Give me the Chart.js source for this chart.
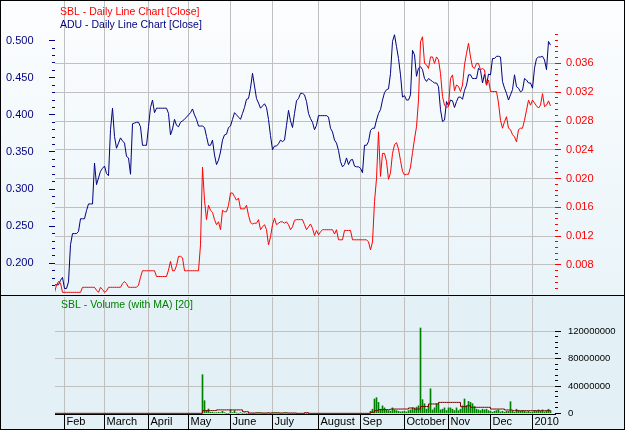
<!DOCTYPE html>
<html>
<head>
<meta charset="utf-8">
<script src="https://cdn.jsdelivr.net/npm/chart.js@4.4.1/dist/chart.umd.min.js"></script>
<style>
  html, body { margin: 0; padding: 0; background: #fff; }
  #wrap { position: relative; width: 625px; height: 430px; overflow: hidden; }
  #topBg { position: absolute; left: 0; top: 0; width: 625px; height: 295px;
           background: linear-gradient(to bottom, #fcfdfe 0%, #e9f4f9 100%); }
  #botBg { position: absolute; left: 0; top: 295px; width: 625px; height: 135px;
           box-sizing: border-box; border-top: 1px solid #000; background: #e3f1f6; }
  #priceChart { position: absolute; left: 0; top: 0; }
  #volChart { position: absolute; left: 0; top: 296px; }
  #frame { position: absolute; left: 0; top: 0; width: 625px; height: 430px;
           box-sizing: border-box; border: 1px solid #000; pointer-events: none; }
</style>
</head>
<body>
<div id="wrap">
  <div id="topBg"></div>
  <div id="botBg"></div>
  <canvas id="priceChart" width="625" height="295"></canvas>
  <canvas id="volChart" width="625" height="134"></canvas>
  <div id="frame"></div>
</div>
<script>
/* data: one value per trading day, Jan 2009 - Jan 2010 */
const monthStarts = [5, 25, 47, 67, 88, 109, 132, 153, 175, 197, 218, 239];
const monthNames = ["Feb", "March", "April", "May", "June", "July", "August", "Sep", "October", "Nov", "Dec", "2010"];

const aduTicks = [0.2, 0.25, 0.3, 0.35, 0.4, 0.45, 0.5];
const sblTicks = [0.008, 0.012, 0.016, 0.02, 0.024, 0.028, 0.032, 0.036];
const volTicks = [0, 40, 80, 120]; // millions

const adu = [
  0.171, 0.171, 0.171, 0.177, 0.181, 0.166, 0.166, 0.175, 0.225, 0.240,
  0.240, 0.240, 0.243, 0.260, 0.260, 0.260, 0.271, 0.280, 0.280, 0.280,
  0.335, 0.306, 0.315, 0.324, 0.328, 0.331, 0.321, 0.318, 0.380, 0.409,
  0.371, 0.355, 0.362, 0.369, 0.365, 0.362, 0.344, 0.342, 0.320, 0.388,
  0.389, 0.390, 0.390, 0.384, 0.359, 0.359, 0.359, 0.384, 0.410, 0.420,
  0.403, 0.409, 0.409, 0.409, 0.409, 0.409, 0.409, 0.402, 0.373, 0.381,
  0.394, 0.386, 0.384, 0.390, 0.392, 0.394, 0.397, 0.400, 0.403, 0.408,
  0.400, 0.394, 0.385, 0.385, 0.385, 0.383, 0.371, 0.359, 0.359, 0.366,
  0.346, 0.333, 0.339, 0.350, 0.366, 0.373, 0.374, 0.383, 0.385, 0.394,
  0.403, 0.400, 0.397, 0.394, 0.402, 0.410, 0.421, 0.422, 0.436, 0.456,
  0.439, 0.422, 0.416, 0.409, 0.412, 0.415, 0.410, 0.394, 0.372, 0.353,
  0.358, 0.358, 0.361, 0.366, 0.364, 0.366, 0.386, 0.406, 0.392, 0.383,
  0.402, 0.419, 0.422, 0.429, 0.429, 0.427, 0.418, 0.402, 0.395, 0.390,
  0.380, 0.386, 0.399, 0.399, 0.399, 0.399, 0.399, 0.397, 0.382, 0.377,
  0.366, 0.362, 0.352, 0.337, 0.330, 0.333, 0.342, 0.333, 0.339, 0.340,
  0.331, 0.330, 0.330, 0.328, 0.322, 0.359, 0.359, 0.364, 0.379, 0.382,
  0.382, 0.393, 0.402, 0.407, 0.420, 0.430, 0.434, 0.435, 0.456, 0.499,
  0.508, 0.492, 0.476, 0.454, 0.424, 0.426, 0.420, 0.420, 0.427, 0.487,
  0.481, 0.452, 0.463, 0.465, 0.461, 0.449, 0.445, 0.449, 0.447, 0.445,
  0.443, 0.443, 0.438, 0.407, 0.391, 0.393, 0.418, 0.412, 0.420, 0.419,
  0.410, 0.418, 0.424, 0.424, 0.421, 0.433, 0.440, 0.454, 0.454, 0.449,
  0.449, 0.449, 0.463, 0.460, 0.443, 0.455, 0.440, 0.455, 0.454, 0.476,
  0.476, 0.479, 0.479, 0.478, 0.445, 0.436, 0.429, 0.420, 0.427, 0.434,
  0.454, 0.438, 0.436, 0.431, 0.433, 0.449, 0.447, 0.443, 0.443, 0.436,
  0.463, 0.476, 0.478, 0.478, 0.479, 0.474, 0.461, 0.499, 0.494
];

const sbl = [
  0.0042, 0.0052, 0.0057, 0.0055, 0.0042, 0.0042, 0.0042, 0.0042, 0.0042, 0.0042,
  0.0042, 0.0042, 0.0042, 0.0042, 0.0049, 0.0049, 0.0049, 0.0049, 0.0049, 0.0049,
  0.0049, 0.0045, 0.0042, 0.0049, 0.0046, 0.0042, 0.0044, 0.0049, 0.0049, 0.0049,
  0.0049, 0.0049, 0.0049, 0.0049, 0.0054, 0.0057, 0.0054, 0.0049, 0.0049, 0.0049,
  0.0049, 0.0049, 0.0052, 0.0063, 0.0072, 0.0072, 0.0072, 0.0072, 0.0072, 0.0072,
  0.0072, 0.0064, 0.0064, 0.0064, 0.0064, 0.0064, 0.0064, 0.0073, 0.0085, 0.0072,
  0.0072, 0.0079, 0.0092, 0.0092, 0.0090, 0.0072, 0.0072, 0.0072, 0.0072, 0.0072,
  0.0072, 0.0072, 0.0072, 0.0108, 0.0216, 0.0170, 0.0143, 0.0163, 0.0156, 0.0153,
  0.0143, 0.0136, 0.0140, 0.0129, 0.0156, 0.0154, 0.0154, 0.0163, 0.0180, 0.0180,
  0.0175, 0.0170, 0.0173, 0.0158, 0.0158, 0.0158, 0.0163, 0.0149, 0.0139, 0.0137,
  0.0138, 0.0138, 0.0143, 0.0129, 0.0133, 0.0136, 0.0129, 0.0108, 0.0119, 0.0136,
  0.0145, 0.0136, 0.0138, 0.0140, 0.0140, 0.0138, 0.0140, 0.0136, 0.0129, 0.0133,
  0.0142, 0.0143, 0.0143, 0.0143, 0.0143, 0.0136, 0.0129, 0.0133, 0.0137, 0.0131,
  0.0121, 0.0128, 0.0122, 0.0126, 0.0129, 0.0129, 0.0129, 0.0129, 0.0129, 0.0129,
  0.0123, 0.0129, 0.0115, 0.0115, 0.0115, 0.0128, 0.0128, 0.0128, 0.0128, 0.0115,
  0.0115, 0.0115, 0.0115, 0.0115, 0.0115, 0.0115, 0.0115, 0.0112, 0.0101, 0.0112,
  0.0168, 0.0200, 0.0265, 0.0203, 0.0235, 0.0235, 0.0224, 0.0199, 0.0208, 0.0235,
  0.0247, 0.0250, 0.0241, 0.0225, 0.0210, 0.0205, 0.0206, 0.0206, 0.0216, 0.0236,
  0.0255, 0.0272, 0.0309, 0.0390, 0.0397, 0.0360, 0.0358, 0.0353, 0.0369, 0.0369,
  0.0360, 0.0369, 0.0365, 0.0346, 0.0314, 0.0302, 0.0299, 0.0300, 0.0339, 0.0344,
  0.0322, 0.0330, 0.0328, 0.0321, 0.0330, 0.0358, 0.0374, 0.0388, 0.0369, 0.0355,
  0.0353, 0.0360, 0.0360, 0.0351, 0.0353, 0.0351, 0.0330, 0.0337, 0.0321, 0.0321,
  0.0321, 0.0321, 0.0305, 0.0281, 0.0270, 0.0279, 0.0286, 0.0270, 0.0268, 0.0261,
  0.0258, 0.0251, 0.0268, 0.0270, 0.0270, 0.0281, 0.0295, 0.0309, 0.0302, 0.0309,
  0.0305, 0.0301, 0.0298, 0.0302, 0.0318, 0.0300, 0.0302, 0.0308, 0.0301
];

// SBL volume and its 20 day MA, in millions of shares
const volume = [
  0, 0, 0, 0, 0, 0, 0, 0, 0, 0,
  0, 0, 0, 0, 0, 0, 0, 0, 0, 0,
  0, 0, 0, 0, 0, 0, 0, 0, 0, 0,
  0, 0, 0, 0, 0, 0, 0, 0, 0, 0,
  0, 0, 0, 0, 0, 0, 0, 0, 0, 0,
  0, 0, 0, 0, 0, 0, 0, 0, 0, 0,
  0, 0, 0, 0, 0, 0, 0, 0, 0, 0,
  0, 0, 0, 0, 56.6, 18.5, 4, 6.3, 1.5, 1.5,
  0.5, 1, 1.5, 1, 3, 1, 0, 0, 5, 1,
  4, 0.5, 0, 1, 0, 0.5, 0, 0, 0, 0,
  0, 1, 1, 1, 0, 0, 0, 1, 0, 1,
  1, 1, 1, 0, 0, 1, 1, 0, 0, 0,
  0, 0, 0, 0, 0, 0, 0, 0, 0, 0,
  0, 0, 0, 0, 0, 0, 0, 0, 0, 0,
  0, 0, 0, 0, 0, 0, 0, 0, 0, 0,
  0, 0, 0, 0, 0, 0, 0, 0, 3, 6,
  21, 23, 16, 6, 11, 8, 5, 4, 3, 8,
  5, 4, 3, 2, 2.5, 3, 2, 4, 5, 8,
  6, 9, 11, 125, 20, 14, 6, 11, 36, 5,
  8, 14, 14, 5, 6, 8, 4, 8, 8, 6,
  4, 8, 4, 6, 11, 21, 11, 17.5, 16, 14,
  10, 6, 5, 4, 6, 5, 6, 4, 3, 1.5,
  3, 4, 5, 2, 3, 1.5, 3, 3, 17, 3,
  1.5, 6, 4, 3, 4, 3, 2, 3, 1.5, 2,
  4, 3, 5, 3, 5, 2, 4, 6, 4
];

const volumeMA = [
  0, 0, 0, 0, 0, 0, 0, 0, 0, 0,
  0, 0, 0, 0, 0, 0, 0, 0, 0, 0,
  0, 0, 0, 0, 0, 0, 0, 0, 0, 0,
  0, 0, 0, 0, 0, 0, 0, 0, 0, 0,
  0, 0, 0, 0, 0, 0, 0, 0, 0, 0,
  0, 0, 0, 0, 0, 0, 0, 0, 0, 0,
  0, 0, 0, 0, 0, 0, 0, 0, 0, 0,
  0, 0, 0, 0, 4, 4, 4, 4, 4, 4,
  4, 5, 5, 5, 5, 5, 5, 5, 5, 5,
  5, 5, 5, 5, 2.4, 2.4, 2.4, 0.5, 0.5, 0.5,
  0.5, 0.5, 0.5, 0.5, 0.5, 0.5, 0.5, 0.5, 0.5, 0.5,
  0.5, 0.5, 0.5, 0.5, 0.5, 0.5, 0.5, 0.5, 0.5, 0.5,
  0.5, 0, 0, 0, 0, 1, 1, 0, 0, 0,
  0, 0, 0, 0, 0, 0, 0, 0, 0, 0,
  0, 0, 0, 0, 0, 0, 0, 0, 0, 0,
  0, 0, 0, 0, 0, 0, 0, 0, 1.5, 1.5,
  4, 4, 5.4, 5.4, 5.4, 5.4, 5.4, 5.4, 6.3, 6.3,
  6.3, 6.3, 6.3, 6.3, 6.3, 6.3, 6.3, 7.8, 7.8, 7.8,
  6.3, 6.3, 6.3, 10, 10, 10, 10, 13.7, 13.7, 13.7,
  13.7, 13.7, 16, 16, 16, 16, 16, 16, 16, 16,
  16, 16, 16, 9.8, 9.8, 9.8, 11, 11, 8.8, 8.8,
  8.8, 8.8, 8.8, 8.8, 8.8, 8.8, 8.8, 8.8, 6.3, 6.3,
  6.3, 6.3, 6.3, 6.3, 6.3, 4.9, 4.9, 4.9, 4.9, 3.9,
  3.9, 3.9, 3.9, 3.9, 3.9, 3.9, 3.9, 3.9, 3.9, 3.9,
  3.9, 3.9, 3.9, 3.9, 3.9, 3.9, 3.9, 3.9, 3.9
];

Chart.defaults.font.family = "'Liberation Sans', Arial, sans-serif";
Chart.defaults.font.size = 11;

const toPoints = (arr) => arr.map((v, i) => ({ x: i, y: v }));
const asTicks = (arr) => (scale) => { scale.ticks = arr.map((v) => ({ value: v })); };
const fixSize = (w, h) => (scale) => {
  if (w != null) scale.width = w;
  if (h != null) scale.height = h;
  scale.paddingTop = 0;
  scale.paddingBottom = 0;
  scale.paddingLeft = 0;
  scale.paddingRight = 0;
};
const crisp = (p) => Math.round(p - 0.5) + 0.5;

/* small tick marks along the value axes, month separators under the date axis */
const tickMarks = {
  id: "tickMarks",
  afterDraw(chart, args, opts) {
    const ctx = chart.ctx;
    const area = chart.chartArea;
    (opts.axes || []).forEach(function (a) {
      const scale = chart.scales[a.id];
      const n = Math.round((a.to - a.from) / a.step);
      ctx.save();
      ctx.strokeStyle = a.color;
      ctx.lineWidth = 1;
      ctx.beginPath();
      for (let k = 0; k <= n; k++) {
        const v = a.from + k * a.step;
        const y = crisp(scale.getPixelForValue(v));
        const major = a.major.some((m) => Math.abs(m - v) < a.step / 4);
        const len = major ? 6 : 3;
        if (a.side === "left") {
          ctx.moveTo(area.left - len, y);
          ctx.lineTo(area.left, y);
        } else {
          ctx.moveTo(area.right, y);
          ctx.lineTo(area.right + len, y);
        }
      }
      ctx.stroke();
      ctx.restore();
    });
    if (opts.separators) {
      const xs = chart.scales.x;
      ctx.save();
      ctx.strokeStyle = "#000";
      ctx.lineWidth = 1;
      ctx.beginPath();
      monthStarts.forEach(function (m) {
        const px = crisp(xs.getPixelForValue(m));
        ctx.moveTo(px, area.bottom);
        ctx.lineTo(px, chart.height);
      });
      ctx.stroke();
      ctx.restore();
    }
  }
};

const panelTitles = {
  id: "panelTitles",
  beforeDatasetsDraw(chart, args, opts) {
    const ctx = chart.ctx;
    ctx.save();
    ctx.font = "10.5px 'Liberation Sans', Arial, sans-serif";
    ctx.textBaseline = "middle";
    (opts.items || []).forEach(function (t) {
      ctx.fillStyle = t.color;
      ctx.fillText(t.text, t.x, t.y);
    });
    ctx.restore();
  }
};

/* price panel */
new Chart(document.getElementById("priceChart"), {
  type: "line",
  data: {
    datasets: [
      {
        label: "SBL",
        data: toPoints(sbl),
        yAxisID: "yR",
        borderColor: "#ff0000",
        borderWidth: 1,
        pointRadius: 0,
        tension: 0
      },
      {
        label: "ADU",
        data: toPoints(adu),
        yAxisID: "yL",
        borderColor: "#000080",
        borderWidth: 1,
        pointRadius: 0,
        tension: 0
      }
    ]
  },
  options: {
    responsive: false,
    animation: false,
    devicePixelRatio: 1,
    events: [],
    layout: { padding: { left: 6, right: 0, top: 1, bottom: 1 } },
    plugins: {
      legend: { display: false },
      tooltip: { enabled: false },
      panelTitles: {
        items: [
          { text: "SBL - Daily Line Chart [Close]", x: 60, y: 12.5, color: "#ff0000" },
          { text: "ADU - Daily Line Chart [Close]", x: 60, y: 25.5, color: "#000080" }
        ]
      },
      tickMarks: {
        axes: [
          { id: "yL", side: "left", color: "#000080", from: 0.17, to: 0.5, step: 0.01, major: aduTicks },
          { id: "yR", side: "right", color: "#ff0000", from: 0.0048, to: 0.04, step: 0.0008, major: sblTicks }
        ]
      }
    },
    scales: {
      x: {
        type: "linear",
        min: 0.25,
        max: 250.25,
        afterBuildTicks: asTicks(monthStarts),
        afterFit: fixSize(null, 0),
        ticks: { display: false },
        grid: { color: "#c0c0c0", drawTicks: false },
        border: { display: false }
      },
      yL: {
        position: "left",
        min: 0.1586,
        max: 0.5535,
        afterBuildTicks: asTicks(aduTicks),
        afterFit: fixSize(49, null),
        ticks: {
          color: "#000080",
          crossAlign: "far",
          autoSkip: false,
          callback: (v) => v.toFixed(3)
        },
        grid: { display: false, drawTicks: false },
        border: { display: false }
      },
      yR: {
        position: "right",
        min: 0.00397,
        max: 0.04467,
        afterBuildTicks: asTicks(sblTicks),
        afterFit: fixSize(70, null),
        ticks: {
          color: "#ff0000",
          padding: 11,
          autoSkip: false,
          callback: (v) => v.toFixed(3)
        },
        grid: { color: "#c0c0c0", drawTicks: false },
        border: { display: false }
      }
    }
  },
  plugins: [tickMarks, panelTitles]
});

/* volume panel */
new Chart(document.getElementById("volChart"), {
  type: "bar",
  data: {
    datasets: [
      {
        type: "line",
        label: "MA",
        data: toPoints(volumeMA),
        yAxisID: "yV",
        borderColor: "#800000",
        borderWidth: 1,
        pointRadius: 0,
        stepped: true,
        order: 0
      },
      {
        type: "bar",
        label: "Volume",
        data: toPoints(volume),
        yAxisID: "yV",
        backgroundColor: "#008000",
        barThickness: 1,
        order: 1
      }
    ]
  },
  options: {
    responsive: false,
    animation: false,
    devicePixelRatio: 1,
    events: [],
    layout: { padding: { left: 55, right: 0, top: 1, bottom: 0 } },
    plugins: {
      legend: { display: false },
      tooltip: { enabled: false },
      panelTitles: {
        items: [{ text: "SBL - Volume (with MA) [20]", x: 61, y: 9, color: "#008000" }]
      },
      tickMarks: {
        separators: true,
        axes: [{ id: "yV", side: "right", color: "#000", from: 0, to: 120, step: 8, major: volTicks }]
      }
    },
    scales: {
      x: {
        type: "linear",
        min: 0.25,
        max: 250.25,
        offset: false,
        afterBuildTicks: asTicks(monthStarts),
        afterFit: fixSize(null, 16),
        ticks: {
          color: "#000",
          align: "start",
          labelOffset: 2,
          padding: 1,
          autoSkip: false,
          maxRotation: 0,
          callback: (v) => monthNames[monthStarts.indexOf(v)]
        },
        grid: { color: "#c0c0c0", drawTicks: false, offset: false },
        border: { display: true, color: "#000", width: 1 }
      },
      yV: {
        position: "right",
        min: -1,
        max: 170.4,
        afterBuildTicks: asTicks(volTicks),
        afterFit: fixSize(70, null),
        ticks: {
          color: "#000",
          padding: 13,
          autoSkip: false,
          font: { family: "'Liberation Sans', Arial, sans-serif", size: 9.5 },
          callback: (v) => String(Math.round(v * 1000000))
        },
        grid: {
          color: (c) => (c.tick && c.tick.value === 0 ? "rgba(0,0,0,0)" : "#c0c0c0"),
          drawTicks: false
        },
        border: { display: false }
      }
    }
  },
  plugins: [tickMarks, panelTitles]
});
</script>
</body>
</html>
